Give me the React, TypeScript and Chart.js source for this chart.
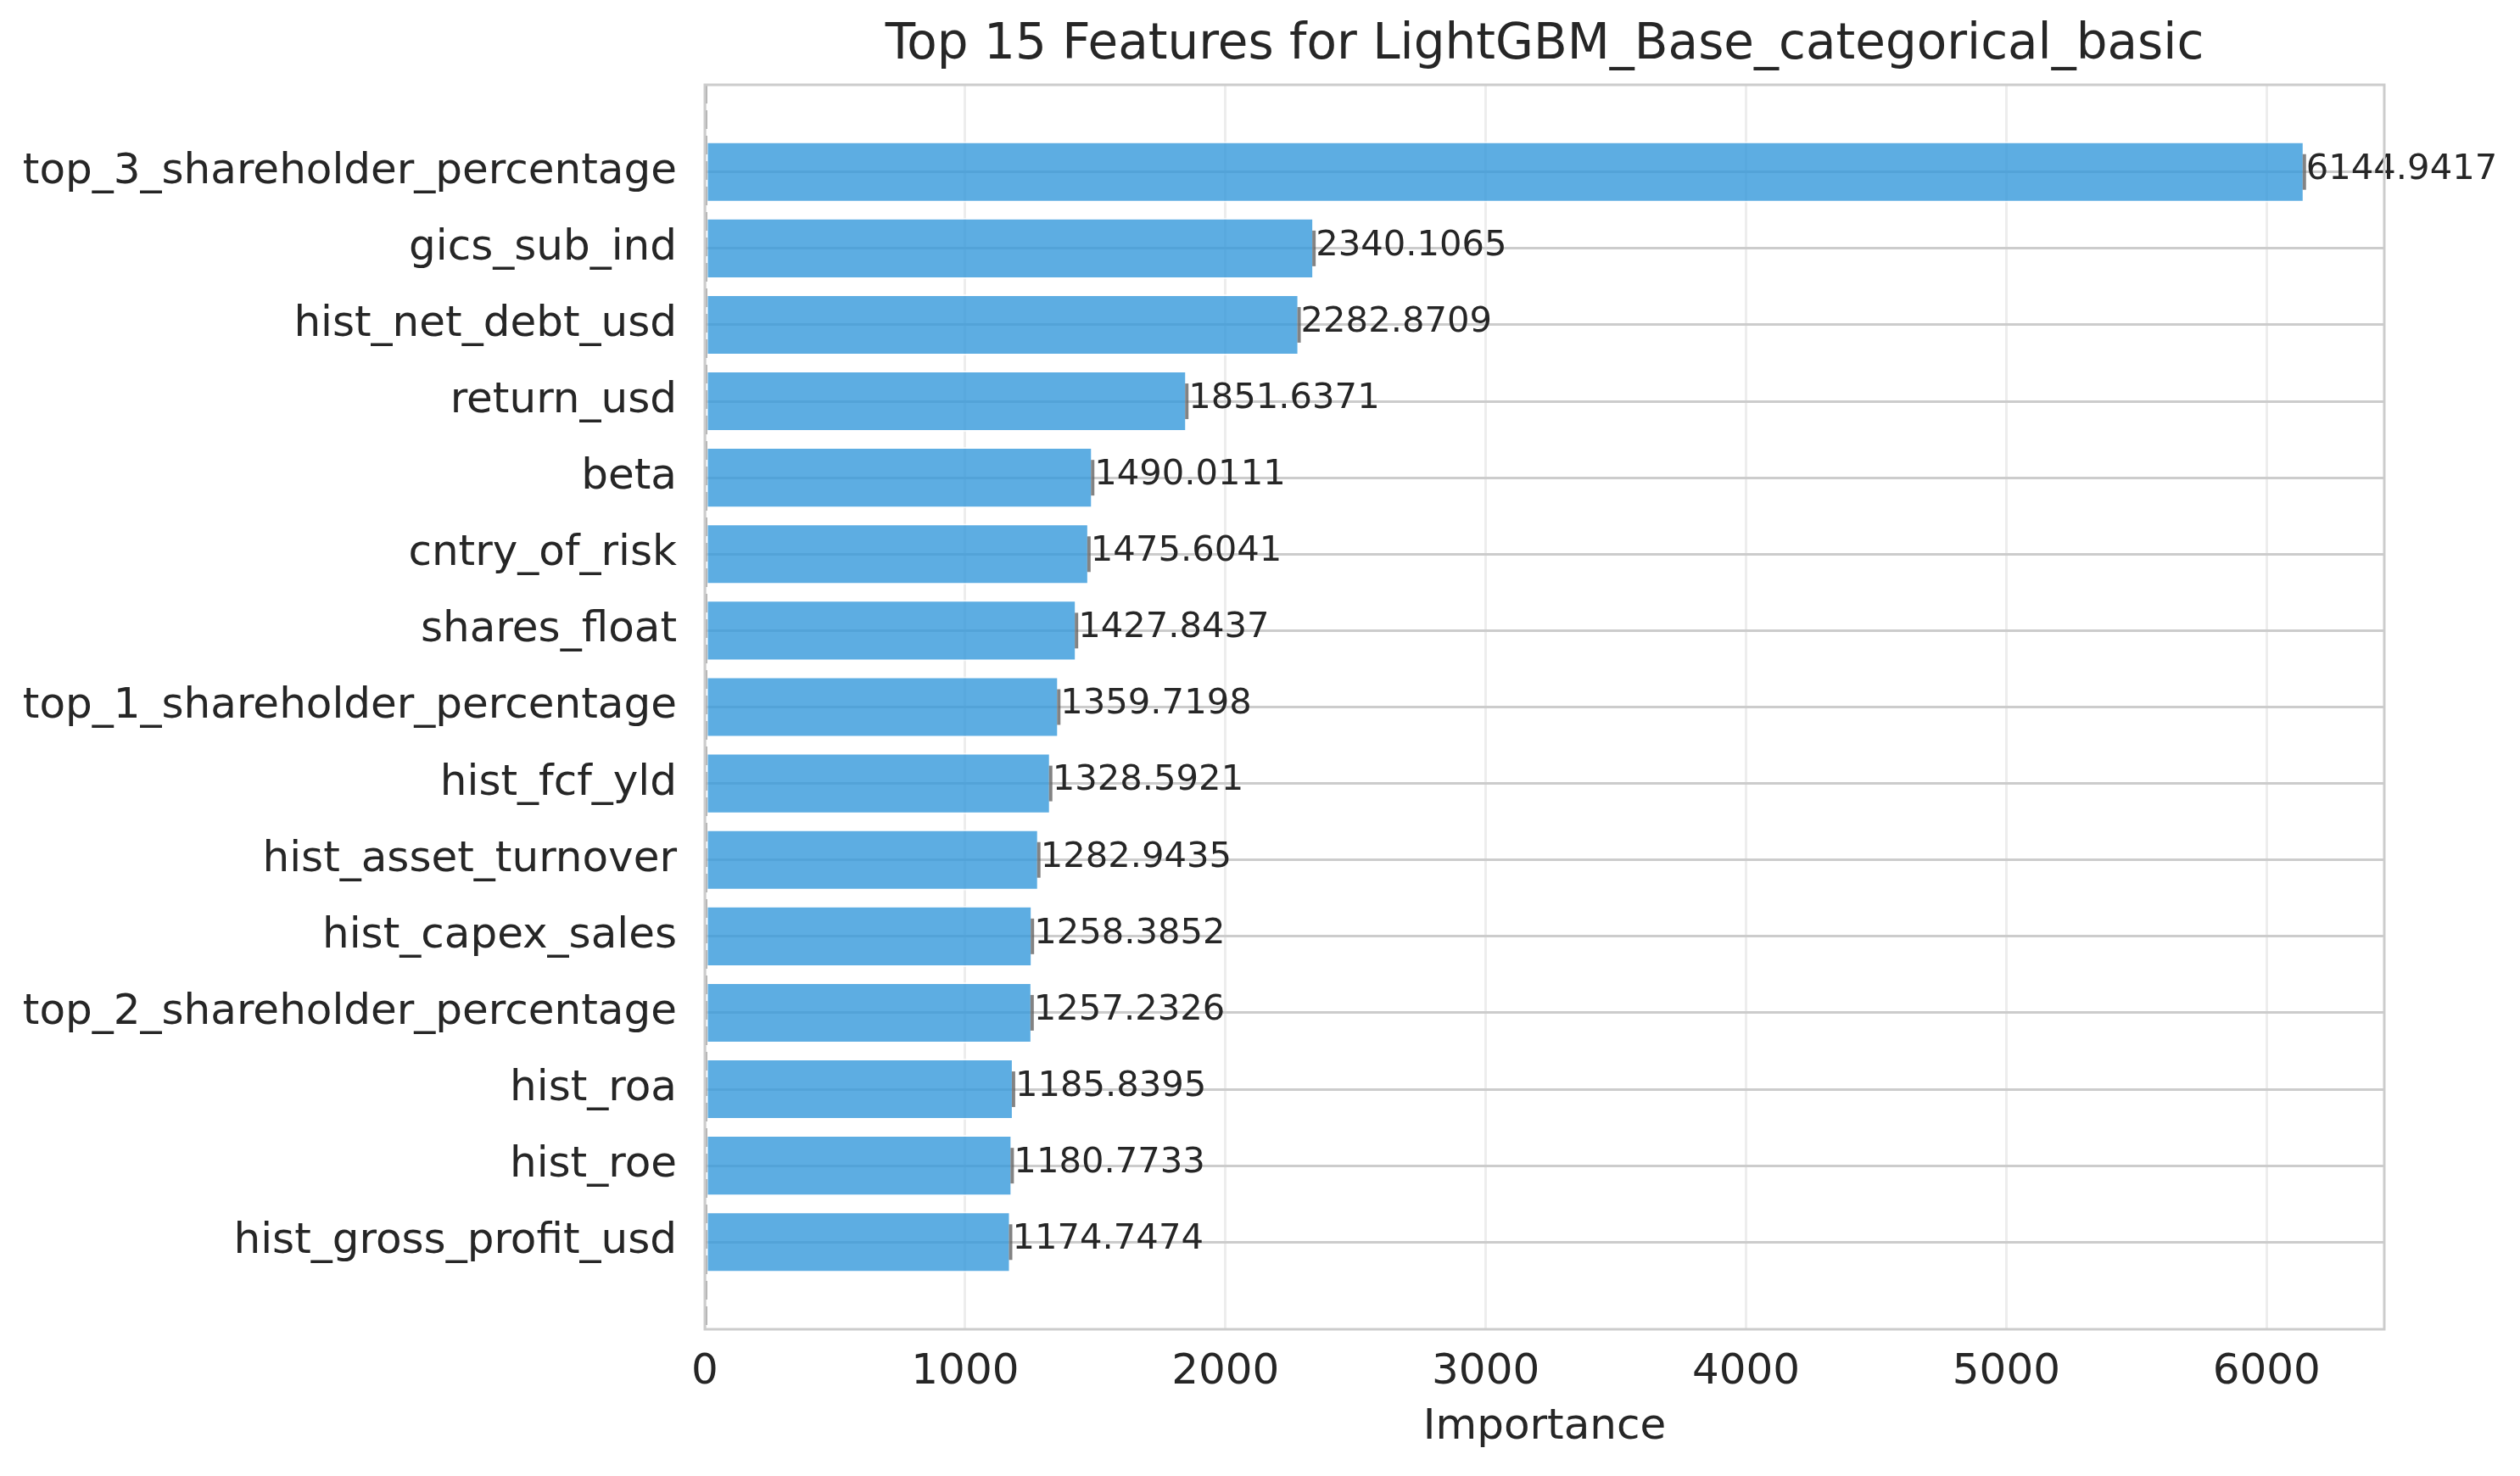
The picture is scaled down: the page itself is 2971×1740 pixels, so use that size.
import React, { useEffect, useRef } from "react";
import { Chart, registerables } from "chart.js";

Chart.register(...registerables);

const features: string[] = [
  "top_3_shareholder_percentage",
  "gics_sub_ind",
  "hist_net_debt_usd",
  "return_usd",
  "beta",
  "cntry_of_risk",
  "shares_float",
  "top_1_shareholder_percentage",
  "hist_fcf_yld",
  "hist_asset_turnover",
  "hist_capex_sales",
  "top_2_shareholder_percentage",
  "hist_roa",
  "hist_roe",
  "hist_gross_profit_usd",
];

const importance: number[] = [
  6144.9417, 2340.1065, 2282.8709, 1851.6371, 1490.0111, 1475.6041, 1427.8437,
  1359.7198, 1328.5921, 1282.9435, 1258.3852, 1257.2326, 1185.8395, 1180.7733,
  1174.7474,
];

const xTicks: number[] = [0, 1000, 2000, 3000, 4000, 5000, 6000];
const xMax = 6452;
const yMin = -1.14;
const yMax = 15.14;

const TITLE = "Top 15 Features for LightGBM_Base_categorical_basic";
const X_LABEL = "Importance";
const FONT = "'DejaVu Sans', sans-serif";
const TEXT = "#262626";
const SPINE = "#cccccc";

export default function App() {
  const ref = useRef<HTMLCanvasElement | null>(null);

  useEffect(() => {
    const canvas = ref.current;
    if (!canvas) return;

    const overlay = {
      id: "overlay",
      afterDatasetsDraw(chart: any) {
        const ctx = chart.ctx;
        const xs = chart.scales.x;
        const ys = chart.scales.y;
        const area = chart.chartArea;
        ctx.save();
        importance.forEach((v, i) => {
          const px = xs.getPixelForValue(v);
          const py = ys.getPixelForValue(i);
          ctx.strokeStyle = "rgba(90,90,90,0.75)";
          ctx.lineWidth = 4;
          ctx.beginPath();
          ctx.moveTo(px, py - 21);
          ctx.lineTo(px, py + 21);
          ctx.stroke();
          ctx.fillStyle = TEXT;
          ctx.font = `41.7px ${FONT}`;
          ctx.textAlign = "left";
          ctx.textBaseline = "middle";
          ctx.fillText(v.toFixed(4), px + 2, py - 3);
        });
        // faint dashed line at zero
        const x0 = xs.getPixelForValue(0);
        ctx.strokeStyle = "rgba(128,128,128,0.6)";
        ctx.lineWidth = 2;
        ctx.setLineDash([22, 8]);
        ctx.beginPath();
        ctx.moveTo(x0 + 2, area.top);
        ctx.lineTo(x0 + 2, area.bottom);
        ctx.stroke();
        ctx.setLineDash([]);
        ctx.strokeStyle = SPINE;
        ctx.lineWidth = 3;
        ctx.strokeRect(area.left, area.top, area.right - area.left, area.bottom - area.top);
        // title centred over the plot area
        ctx.fillStyle = TEXT;
        ctx.font = `58px ${FONT}`;
        ctx.textAlign = "center";
        ctx.textBaseline = "middle";
        ctx.fillText(TITLE, (area.left + area.right) / 2, 54);
        ctx.restore();
      },
    };

    const chart = new Chart(canvas, {
      type: "bar",
      data: {
        datasets: [
          {
            data: importance.map((v, i) => ({ x: v, y: i })),
            backgroundColor: "rgba(52,152,219,0.8)",
            borderColor: "rgba(255,255,255,0.7)",
            borderWidth: 2,
            borderSkipped: false,
            barPercentage: 0.8,
            categoryPercentage: 1,
          },
        ],
      },
      options: {
        indexAxis: "y",
        responsive: false,
        animation: false,
        devicePixelRatio: 1,
        layout: { padding: { left: 0, right: 160, top: 100, bottom: 0 } },
        plugins: {
          legend: { display: false },
          tooltip: { enabled: false },
          title: { display: false },
        },
        scales: {
          x: {
            type: "linear",
            min: 0,
            max: xMax,
            afterFit(scale: any) {
              scale.height = 173;
            },
            afterBuildTicks(scale: any) {
              scale.ticks = xTicks.map((v) => ({ value: v }));
            },
            ticks: {
              includeBounds: false,
              color: TEXT,
              font: { family: FONT, size: 50 },
              padding: 21,
              maxRotation: 0,
              autoSkip: false,
              callback: (value: any) => String(value),
            },
            grid: {
              color: "rgba(204,204,204,0.35)",
              lineWidth: 3,
              drawTicks: false,
            },
            border: { display: false },
            title: {
              display: true,
              text: X_LABEL,
              color: TEXT,
              font: { family: FONT, size: 50 },
              padding: { top: 0, bottom: 27 },
            },
          },
          y: {
            type: "linear",
            min: yMin,
            max: yMax,
            reverse: true,
            offset: false,
            afterFit(scale: any) {
              scale.width = 831;
            },
            afterBuildTicks(scale: any) {
              scale.ticks = features.map((_, i) => ({ value: i }));
            },
            ticks: {
              color: TEXT,
              font: { family: FONT, size: 50 },
              padding: 33,
              autoSkip: false,
              callback: (value: any) => features[Number(value)] ?? "",
            },
            grid: {
              color: SPINE,
              lineWidth: 3,
              drawTicks: false,
              offset: false,
            },
            border: { display: false },
          },
        },
      },
      plugins: [overlay],
    });

    return () => chart.destroy();
  }, []);

  return (
    <div style={{ position: "fixed", left: 0, top: 0, width: 2971, height: 1740, background: "#ffffff" }}>
      <canvas ref={ref} width={2971} height={1740} style={{ width: 2971, height: 1740, display: "block" }} />
    </div>
  );
}
